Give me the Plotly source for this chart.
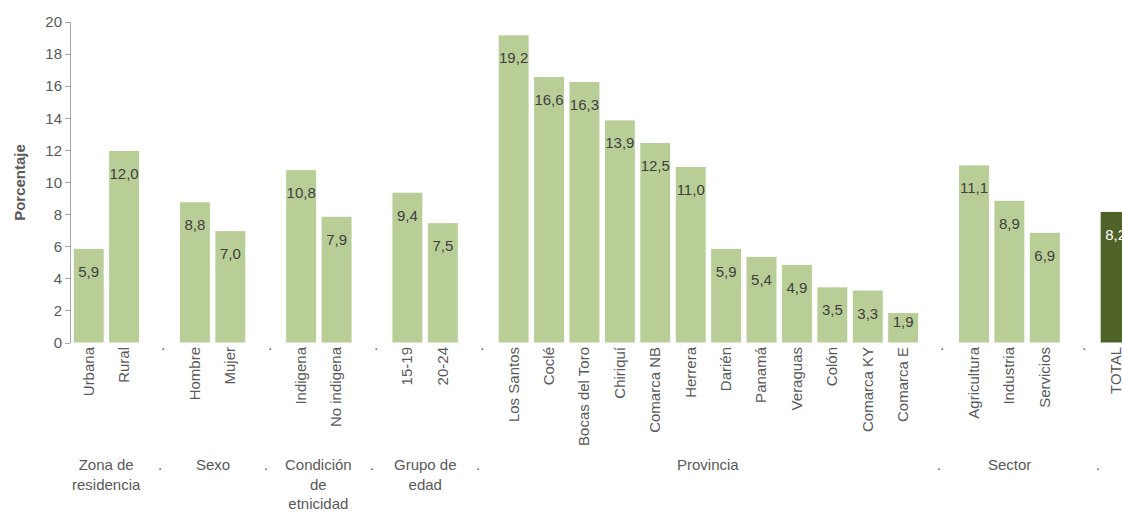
import plotly.graph_objects as go

# ---- data ----
zona_cats = ["Urbana", "Rural"]
zona_vals = [5.9, 12.0]
sexo_cats = ["Hombre", "Mujer"]
sexo_vals = [8.8, 7.0]
etnia_cats = ["Indigena", "No indigena"]
etnia_vals = [10.8, 7.9]
edad_cats = ["15-19", "20-24"]
edad_vals = [9.4, 7.5]
prov_cats = ["Los Santos", "Coclé", "Bocas del Toro", "Chiriquí", "Comarca NB", "Herrera",
             "Darién", "Panamá", "Veraguas", "Colón", "Comarca KY", "Comarca E"]
prov_vals = [19.2, 16.6, 16.3, 13.9, 12.5, 11.0, 5.9, 5.4, 4.9, 3.5, 3.3, 1.9]
sector_cats = ["Agricultura", "Industria", "Servicios"]
sector_vals = [11.1, 8.9, 6.9]
total_cats = ["TOTAL"]
total_vals = [8.2]

group_labels = ["Zona de<br>residencia", "Sexo", "Condición<br>de<br>etnicidad",
                "Grupo de<br>edad", "Provincia", "Sector"]
gap_label = "."

LIGHT = "#B9CE97"
DARK = "#4F6228"
TXT = "#595959"
FONT = "Liberation Sans, Arial, sans-serif"
FS = 15

groups = [(zona_cats, zona_vals), (sexo_cats, sexo_vals), (etnia_cats, etnia_vals),
          (edad_cats, edad_vals), (prov_cats, prov_vals), (sector_cats, sector_vals)]

xs, ys = [], []
tickvals, ticktext = [], []
group_centers, gap_positions = [], []
pos = 0
for cats, vals in groups:
    start = pos
    for c, v in zip(cats, vals):
        xs.append(pos); ys.append(v)
        tickvals.append(pos); ticktext.append(c)
        pos += 1
    group_centers.append((start + pos - 1) / 2)
    tickvals.append(pos); ticktext.append(gap_label)
    gap_positions.append(pos)
    pos += 1
tot_x = []
for c in total_cats:
    tot_x.append(pos)
    tickvals.append(pos); ticktext.append(c)
    pos += 1

# label offset: short bars get their label closer to the top
lab_size = [26 if v > 2.5 else 4 for v in ys]

fig = go.Figure()
fig.add_trace(go.Bar(
    x=xs, y=ys, width=0.875,
    marker=dict(color=LIGHT, line=dict(color="white", width=1)),
    hoverinfo="skip"))
fig.add_trace(go.Bar(
    x=tot_x, y=total_vals, width=0.875,
    marker=dict(color=DARK, line=dict(color="white", width=1)),
    hoverinfo="skip"))
# value labels, placed just inside the top of each bar
fig.add_trace(go.Scatter(
    x=xs, y=ys, mode="markers+text",
    marker=dict(size=lab_size, opacity=0),
    texttemplate="%{y:.1f}", textposition="bottom center",
    textfont=dict(family=FONT, size=FS, color="#404040"),
    cliponaxis=True, hoverinfo="skip"))
fig.add_trace(go.Scatter(
    x=tot_x, y=total_vals, mode="markers+text",
    marker=dict(size=26, opacity=0),
    texttemplate="%{y:.1f}", textposition="bottom center",
    textfont=dict(family=FONT, size=FS, color="white"),
    cliponaxis=True, hoverinfo="skip"))

annotations = []
for lbl, cx in zip(group_labels, group_centers):
    annotations.append(dict(x=cx, y=-0.345, xref="x", yref="paper", text=lbl,
                            showarrow=False, yanchor="top", xanchor="center",
                            font=dict(family=FONT, size=FS, color=TXT)))
# separator dots at group level
dot_pos = gap_positions[:-1] + [(gap_positions[-1] + tot_x[0]) / 2]
for gx in dot_pos:
    annotations.append(dict(x=gx, y=-0.345, xref="x", yref="paper", text=gap_label,
                            showarrow=False, yanchor="top", xanchor="center",
                            font=dict(family=FONT, size=FS, color=TXT)))

fig.update_layout(
    width=1122, height=515,
    margin=dict(l=71, r=0, t=22, b=172, autoexpand=False),
    plot_bgcolor="white", paper_bgcolor="white",
    separators=",.",
    showlegend=False,
    font=dict(family=FONT, size=FS, color=TXT),
    annotations=annotations,
    xaxis=dict(range=[-0.5, 29.18], tickmode="array", tickvals=tickvals, ticktext=ticktext,
               tickangle=-90, ticks="", showgrid=False, showline=False, zeroline=False,
               ticklabeloverflow="allow",
               tickfont=dict(family=FONT, size=FS, color=TXT)),
    yaxis=dict(range=[0, 20], dtick=2, tick0=0, showgrid=False, zeroline=False,
               showline=True, linecolor="#A6A6A6", linewidth=1,
               ticks="outside", ticklen=5, tickcolor="#A6A6A6",
               tickfont=dict(family=FONT, size=FS, color=TXT),
               title=dict(text="<b>Porcentaje</b>", standoff=16,
                          font=dict(family=FONT, size=15, color=TXT))),
)

fig.write_html("out.html", config={"displayModeBar": False},
               post_script="document.body.style.margin='0';document.body.style.overflow='hidden';")
